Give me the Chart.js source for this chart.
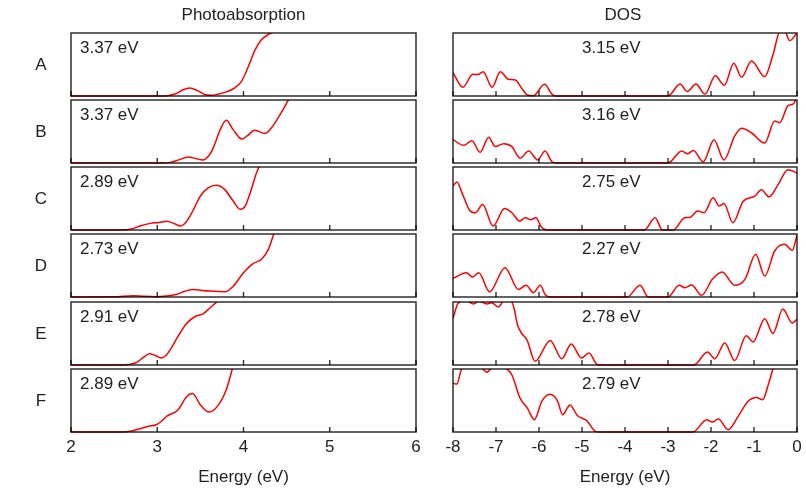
<!DOCTYPE html>
<html><head><meta charset="utf-8">
<script src="https://cdn.jsdelivr.net/npm/chart.js@4"></script>
<style>
body{margin:0;width:806px;height:490px;background:#fff;position:relative;overflow:hidden;font-family:"Liberation Sans",Arial,Helvetica,sans-serif;color:#222}
canvas{position:absolute}
.t{position:absolute;font-size:17px;line-height:17px;white-space:nowrap;color:#222}
</style></head><body>
<script>
// ---- categories / labels ----
const rowLabels = ['A','B','C','D','E','F'];
const absGaps = ['3.37 eV','3.37 eV','2.89 eV','2.73 eV','2.91 eV','2.89 eV'];
const dosGaps = ['3.15 eV','3.16 eV','2.75 eV','2.27 eV','2.78 eV','2.79 eV'];
const absTicks = [2,3,4,5,6];
const dosTicks = [-8,-7,-6,-5,-4,-3,-2,-1,0];
const xTitle = 'Energy (eV)';
const colTitles = ['Photoabsorption','DOS'];

// ---- photoabsorption curves [energy, intensity] ----
const absA = [[2,0],[2.6,0],[3.05,0],[3.12,0.005],[3.22,0.04],[3.3,0.1],[3.38,0.127],[3.46,0.09],[3.55,0.025],[3.62,0.012],[3.7,0.028],[3.8,0.065],[3.9,0.13],[3.97,0.22],[4.02,0.35],[4.08,0.55],[4.13,0.72],[4.2,0.88],[4.28,0.97],[4.36,1.02],[4.45,1.05]];
const absB = [[2,0],[3.05,0],[3.15,0.01],[3.25,0.05],[3.36,0.097],[3.45,0.07],[3.53,0.048],[3.6,0.12],[3.65,0.24],[3.73,0.53],[3.8,0.68],[3.88,0.53],[3.98,0.38],[4.05,0.44],[4.13,0.52],[4.25,0.47],[4.32,0.55],[4.38,0.67],[4.46,0.85],[4.52,1.0],[4.58,1.12]];
const absC = [[2,0],[2.6,0],[2.7,0.015],[2.8,0.063],[2.92,0.105],[3.02,0.12],[3.11,0.137],[3.2,0.1],[3.27,0.063],[3.33,0.12],[3.38,0.22],[3.44,0.38],[3.5,0.54],[3.59,0.67],[3.69,0.71],[3.78,0.645],[3.88,0.46],[3.96,0.33],[4.02,0.38],[4.09,0.64],[4.15,0.905],[4.18,1.0],[4.22,1.15]];
const absD = [[2,0],[2.5,0.003],[2.72,0.02],[2.85,0.01],[2.99,0.005],[3.1,0.015],[3.22,0.04],[3.32,0.09],[3.42,0.12],[3.52,0.105],[3.61,0.095],[3.79,0.085],[3.88,0.17],[4.0,0.386],[4.11,0.53],[4.21,0.6],[4.29,0.76],[4.33,0.915],[4.35,1.0],[4.38,1.12]];
const absE = [[2,0],[2.6,0],[2.7,0.015],[2.76,0.04],[2.84,0.12],[2.91,0.18],[2.98,0.15],[3.05,0.11],[3.1,0.15],[3.15,0.24],[3.24,0.455],[3.34,0.66],[3.44,0.77],[3.53,0.81],[3.61,0.905],[3.69,1.0],[3.76,1.08]];
const absF = [[2,0],[2.6,0],[2.7,0.015],[2.8,0.053],[2.9,0.09],[2.99,0.116],[3.05,0.17],[3.11,0.25],[3.24,0.35],[3.34,0.56],[3.41,0.61],[3.5,0.43],[3.6,0.316],[3.71,0.43],[3.8,0.67],[3.84,0.85],[3.87,1.0],[3.9,1.12]];

// ---- DOS curves [energy, density] ----
const dosA = [[-8,0.37],[-7.77,0.14],[-7.54,0.344],[-7.42,0.34],[-7.3,0.386],[-7.09,0.138],[-6.9,0.386],[-6.71,0.265],[-6.55,0.254],[-6.4,0.12],[-6.27,0.016],[-6.13,0.005],[-5.87,0.185],[-5.7,0.03],[-5.62,0],[-3.0,0],[-2.72,0.19],[-2.55,0.07],[-2.35,0.19],[-2.14,0.03],[-1.9,0.32],[-1.69,0.17],[-1.47,0.52],[-1.29,0.296],[-1.06,0.556],[-0.75,0.307],[-0.56,0.65],[-0.4,1.03],[-0.3,1.05],[-0.17,0.88],[0,1.0]];
const dosB = [[-8,0.37],[-7.75,0.28],[-7.56,0.355],[-7.37,0.17],[-7.17,0.41],[-7.02,0.26],[-6.82,0.306],[-6.63,0.26],[-6.44,0.075],[-6.24,0.19],[-6.03,0.048],[-5.86,0.19],[-5.7,0.02],[-5.62,0],[-3.0,0],[-2.68,0.19],[-2.55,0.145],[-2.41,0.2],[-2.18,0.02],[-1.93,0.37],[-1.7,0.048],[-1.45,0.425],[-1.29,0.55],[-1.06,0.48],[-0.75,0.317],[-0.52,0.667],[-0.4,0.64],[-0.21,0.91],[-0.09,0.935],[0,1.04]];
const dosC = [[-8,0.7],[-7.91,0.76],[-7.79,0.59],[-7.6,0.3],[-7.48,0.274],[-7.31,0.405],[-7.07,0.063],[-6.8,0.342],[-6.63,0.274],[-6.45,0.142],[-6.32,0.195],[-6.2,0.163],[-6.07,0.195],[-5.95,0.05],[-5.83,0],[-3.55,0],[-3.3,0.195],[-3.13,0.0],[-2.88,0.0],[-2.61,0.195],[-2.49,0.2],[-2.31,0.3],[-2.16,0.274],[-1.95,0.51],[-1.81,0.38],[-1.7,0.42],[-1.49,0.116],[-1.25,0.458],[-0.98,0.537],[-0.83,0.64],[-0.65,0.526],[-0.44,0.72],[-0.21,0.958],[0,0.905]];
const dosD = [[-8,0.296],[-7.69,0.386],[-7.54,0.317],[-7.4,0.386],[-7.15,0.08],[-6.79,0.466],[-6.48,0.12],[-6.3,0.185],[-6.13,0.07],[-5.97,0.185],[-5.85,0.03],[-5.74,0],[-3.95,0],[-3.65,0.185],[-3.46,0],[-3.0,0],[-2.74,0.185],[-2.61,0.148],[-2.45,0.19],[-2.22,0.026],[-1.97,0.28],[-1.74,0.397],[-1.45,0.185],[-1.21,0.28],[-0.96,0.677],[-0.75,0.333],[-0.52,0.73],[-0.29,0.836],[-0.11,0.74],[0,0.98]];
const dosE = [[-8,0.74],[-7.88,0.98],[-7.7,1.02],[-7.52,0.97],[-7.4,1.01],[-7.21,0.97],[-7.1,0.99],[-6.95,0.92],[-6.8,1.03],[-6.65,1.02],[-6.58,0.9],[-6.5,0.64],[-6.4,0.5],[-6.28,0.4],[-6.09,0.058],[-5.74,0.39],[-5.47,0.1],[-5.25,0.333],[-5.01,0.11],[-4.84,0.19],[-4.64,0.005],[-4.55,0],[-2.4,0],[-2.08,0.206],[-1.91,0.1],[-1.68,0.35],[-1.45,0.07],[-1.18,0.466],[-1.02,0.365],[-0.75,0.735],[-0.56,0.5],[-0.33,0.89],[-0.11,0.667],[0,0.73]];
const dosF = [[-8,0.774],[-7.91,0.76],[-7.81,0.98],[-7.7,1.05],[-7.4,1.05],[-7.21,0.95],[-7.0,1.1],[-6.75,1.0],[-6.63,0.905],[-6.44,0.537],[-6.27,0.38],[-6.11,0.195],[-5.93,0.495],[-5.74,0.6],[-5.57,0.495],[-5.45,0.274],[-5.28,0.43],[-5.11,0.263],[-4.89,0.18],[-4.69,0.01],[-4.6,0],[-2.42,0],[-2.1,0.195],[-1.97,0.158],[-1.83,0.205],[-1.6,0.037],[-1.37,0.247],[-1.14,0.484],[-0.94,0.547],[-0.8,0.51],[-0.67,0.747],[-0.56,1.0],[-0.48,1.17]];

const absSeries = [absA,absB,absC,absD,absE,absF];
const dosSeries = [dosA,dosB,dosC,dosD,dosE,dosF];

// ---- layout ----
const panelTops = [33,100,167,234,302,369];
const panelH = 63;
const cols = [
  {left:71, right:416, min:2, max:6, ticks:absTicks, series:absSeries, gaps:absGaps, gapX:80},
  {left:453, right:797, min:-8, max:0, ticks:dosTicks, series:dosSeries, gaps:dosGaps, gapX:582}
];
const PADX = 20, PADY = 4, PAGE_H = 490;
const FONT = '"Liberation Sans", Arial, sans-serif';

const frame = {
  id:'frame',
  afterDatasetsDraw(chart){
    const {ctx, chartArea:a} = chart;
    const xs = chart.scales.x;
    ctx.save();
    ctx.strokeStyle = 'rgba(0,0,0,0.82)';
    ctx.lineWidth = 1.4;
    chart.options.plugins.frame.ticks.forEach(v=>{
      const px = xs.getPixelForValue(v);
      ctx.beginPath(); ctx.moveTo(px, a.bottom); ctx.lineTo(px, a.bottom-5); ctx.stroke();
    });
    ctx.lineWidth = 1.5;
    ctx.strokeRect(a.left, a.top, a.right-a.left, a.bottom-a.top);
    ctx.restore();
  }
};

function addText(txt, x, y, align, w){
  const d = document.createElement('div');
  d.className='t'; d.textContent = txt;
  if(align==='center'){ d.style.left=(x-w/2)+'px'; d.style.width=w+'px'; d.style.textAlign='center'; }
  else { d.style.left = x+'px'; }
  d.style.top = y+'px';
  document.body.appendChild(d);
}

cols.forEach((c,ci)=>{
  const pw = c.right - c.left;
  panelTops.forEach((top,ri)=>{
    const bottomRow = ri === panelTops.length-1;
    const cv = document.createElement('canvas');
    const cTop = top - PADY;
    const cH = bottomRow ? (PAGE_H - cTop) : (panelH + 2*PADY);
    const cW = pw + 2*PADX;
    cv.width = cW; cv.height = cH;
    cv.style.left = (c.left - PADX)+'px'; cv.style.top = cTop+'px';
    cv.style.width = cW+'px'; cv.style.height = cH+'px';
    document.body.appendChild(cv);
    const axisH = cH - PADY - panelH - 2;
    new Chart(cv, {
      type:'line',
      data:{datasets:[{
        data: c.series[ri],
        borderColor:'rgb(255,0,0)', borderWidth:1.5, pointRadius:0,
        cubicInterpolationMode:'monotone', fill:false,
        clip:{left:0,top:0,right:0,bottom:1}
      }]},
      options:{
        responsive:false, animation:false, devicePixelRatio:1,
        layout:{padding:{left:PADX,right:PADX,top:PADY,bottom: bottomRow?2:PADY}},
        plugins:{legend:{display:false}, tooltip:{enabled:false}, frame:{ticks:c.ticks}},
        scales:{
          x:{type:'linear', min:c.min, max:c.max, display:bottomRow,
             grid:{display:false, drawTicks:false}, border:{display:false},
             ticks:{stepSize:1, autoSkip:false, maxRotation:0, padding:5, color:'#222',
                    font:{family:FONT, size:17}},
             title:{display:true, text:xTitle, color:'#222', padding:0,
                    font:{family:FONT, size:17}},
             afterFit:(s)=>{ if(bottomRow) s.height = axisH; }
          },
          y:{type:'linear', min:0, max:1, display:false}
        }
      },
      plugins:[frame]
    });
    addText(c.gaps[ri], c.gapX, top + 6, 'left');
  });
  addText(colTitles[ci], (c.left+c.right)/2 - (ci===1?2:0), 6, 'center', 200);
});

rowLabels.forEach((r,i)=>{ addText(r, 41, panelTops[i] + 23, 'center', 20); });
</script>
</body></html>
